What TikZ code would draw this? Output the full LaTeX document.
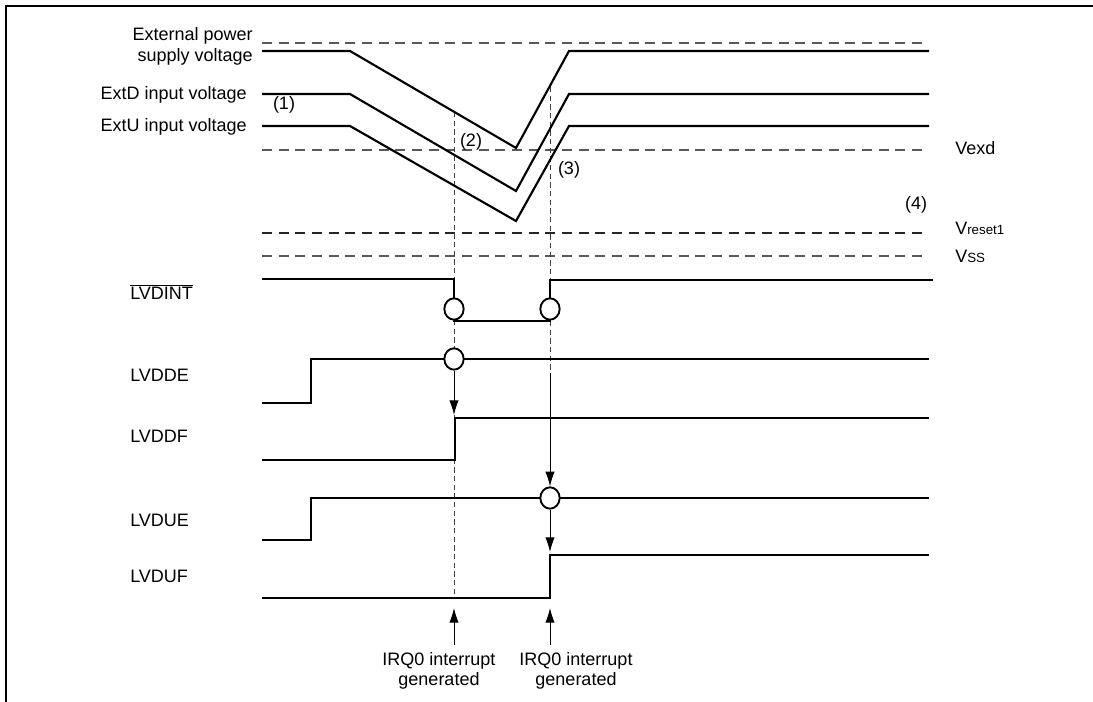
\documentclass[tikz,border=0pt]{standalone}
\usepackage{fontspec}
\setmainfont{Liberation Sans}
\usetikzlibrary{arrows.meta,shapes.geometric}
\begin{document}
\begin{tikzpicture}[x=0.75pt,y=-0.75pt,
  sig/.style={line width=1.6pt, line join=miter},
  refline/.style={line width=0.8pt, draw=black!65, dash pattern=on 7.5pt off 5pt},
  refthick/.style={line width=1.7pt, draw=black!85, dash pattern=on 7.5pt off 5pt},
  guide/.style={line width=0.6pt, draw=black!75, dash pattern=on 4pt off 2.5pt},
  bub/.style={ellipse, draw, line width=1.4pt, fill=white, minimum width=14.5pt, minimum height=16pt, inner sep=0pt},
  lbl/.style={font=\fontsize{13.5}{16}\selectfont, inner sep=0pt},
  arr/.style={-{Latex[length=11pt,width=7pt]}, line width=0.7pt},
  frame/.style={line width=1.8pt}
]
\useasboundingbox (0,0) rectangle (1093,702);
% frame (top and left only)
\coordinate (fl) at (6,702);
\coordinate (fc) at (6,6);
\coordinate (fr) at (1093,6);
\draw[frame] (fl) -- (fc) -- (fr);

% reference levels
\draw[refline] (262,43) -- (925,43);
\draw[refline] (262,150) -- (925,150);
\draw[refthick] (262,233) -- (925,233);
\draw[refline] (262,256) -- (925,256);

% guide lines
\draw[guide] (454,112) -- (454,598);
\draw[guide] (550,87) -- (550,373);

% analog voltages
\draw[sig] (262,51) -- (350,51) -- (516,148) -- (569,51) -- (929,51);
\draw[sig] (262,94) -- (350,94) -- (516,191) -- (569,94) -- (929,94);
\draw[sig] (262,126) -- (350,126) -- (516,221) -- (569,126) -- (929,126);

% digital signals
\draw[sig] (262,279) -- (454,279) -- (454,321) -- (550,321) -- (550,280) -- (933,280);
\draw[sig] (262,403) -- (311,403) -- (311,359) -- (929,359);
\draw[sig] (262,460) -- (455,460) -- (455,418) -- (929,418);
\draw[sig] (262,540) -- (311,540) -- (311,498) -- (929,498);
\draw[sig] (262,598) -- (550,598) -- (550,555) -- (929,555);

% bubbles
\node[bub] (b1) at (454,309) {};
\node[bub] (b2) at (550,309) {};
\node[bub] (b3) at (454,359) {};
\node[bub] (b4) at (550,498) {};

% causal arrows
\coordinate (tf) at (454,415);
\coordinate (s2) at (550,373);
\coordinate (tu) at (550,552);
\draw[arr] (b3.south) -- (tf);
\draw[arr] (s2) -- (b4.north);
\draw[arr] (b4.south) -- (tu);

% left labels
\node[lbl, anchor=base east] (ext1) at (253,41) {External power};
\node[lbl, anchor=base east] (ext2) at (253,62) {supply voltage};
\node[lbl, anchor=base east] (extd) at (247,100) {ExtD input voltage};
\node[lbl, anchor=base east] (extu) at (247,132) {ExtU input voltage};
\node[lbl] (n1) at (284,105) {(1)};
\node[lbl] (n2) at (471,142) {(2)};
\node[lbl] (n3) at (569,170) {(3)};
\node[lbl] (n4) at (916,205) {(4)};
\node[lbl, anchor=base west] (vexd) at (955,155) {Vexd};
\node[lbl, anchor=base west] (vreset) at (955,235) {V{\fontsize{10}{12}\selectfont reset1}};
\node[lbl, anchor=base west] (vss) at (955,263) {V{\fontsize{10}{12}\selectfont SS}};

\node[lbl, anchor=base west] (lint) at (130,300) {$\overline{\mbox{LVDINT}}$};
\node[lbl, anchor=base west] (lde) at (130,382) {LVDDE};
\node[lbl, anchor=base west] (ldf) at (130,442) {LVDDF};
\node[lbl, anchor=base west] (lue) at (130,526) {LVDUE};
\node[lbl, anchor=base west] (luf) at (130,582) {LVDUF};

% IRQ annotations
\node[lbl, align=center, anchor=north] (irq1) at (439,652) {IRQ0 interrupt\\[-1pt]generated};
\node[lbl, align=center, anchor=north] (irq2) at (576,652) {IRQ0 interrupt\\[-1pt]generated};
\coordinate (i1s) at (454,645);
\coordinate (i1t) at (454,608);
\coordinate (i2s) at (550,645);
\coordinate (i2t) at (550,608);
\draw[arr] (i1s) -- (i1t);
\draw[arr] (i2s) -- (i2t);
\end{tikzpicture}
\end{document}
